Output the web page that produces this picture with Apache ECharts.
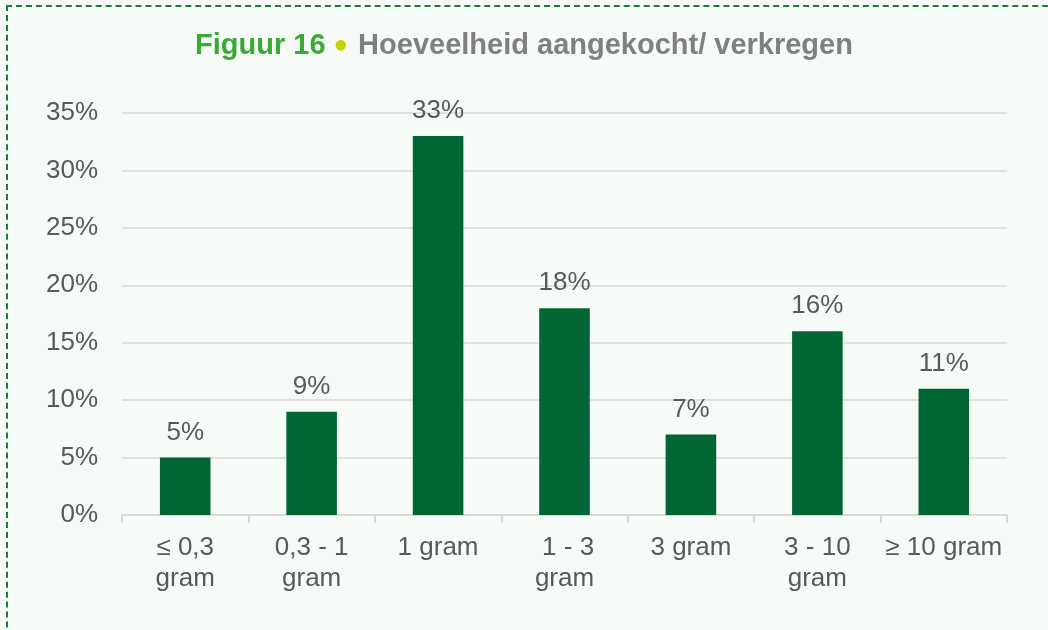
<!DOCTYPE html>
<html>
<head>
<meta charset="utf-8">
<script src="https://cdn.jsdelivr.net/npm/echarts@6/dist/echarts.min.js"></script>
<style>
    html, body { margin: 0; padding: 0; background: #f7fbf8; overflow: hidden; }
    #frame {
        position: absolute; left: 6px; top: 5px; width: 1100px; height: 700px;
        border-top: 2px dashed #1c7a3c; border-left: 2px dashed #1c7a3c;
    }
    #chartsbox { position: absolute; left: 0; top: 0; width: 1048px; height: 630px; }
</style>
</head>
<body>
<div id="frame"></div>
<div id="chartsbox"></div>
<script type="text/javascript">
    // data
    var aCategories = ['≤ 0,3\ngram', '0,3 - 1\ngram', '1 gram', ' 1 - 3\ngram', '3 gram', '3 - 10\ngram', '≥ 10 gram'];
    var aValues = [5, 9, 33, 18, 7, 16, 11];
    var aTicks = [0, 5, 10, 15, 20, 25, 30, 35];

    var myChart = echarts.init(document.getElementById('chartsbox'));
    var option = {
        backgroundColor: 'transparent',
        textStyle: { fontFamily: 'Liberation Sans, Arial, sans-serif' },
        title: {
            text: '{g|Figuur 16}{d|●}{t|Hoeveelheid aangekocht/ verkregen}',
            left: 'center',
            top: 26,
            textStyle: {
                rich: {
                    g: { color: '#3aaa35', fontSize: 29, fontWeight: 'bold', fontFamily: 'Liberation Sans' },
                    d: { color: '#c5d300', fontSize: 24, fontFamily: 'Liberation Sans', padding: [0, 10, 0, 8] },
                    t: { color: '#808080', fontSize: 29, fontWeight: 'bold', fontFamily: 'Liberation Sans' }
                }
            }
        },
        grid: { left: 122, right: 41, top: 113, bottom: 115 },
        xAxis: {
            type: 'category',
            data: aCategories,
            axisLine: { lineStyle: { color: '#d9d9d9', width: 2 } },
            axisTick: { show: true, length: 8, lineStyle: { color: '#d9d9d9', width: 2 } },
            axisLabel: { color: '#595959', fontSize: 26, margin: 17, lineHeight: 31, interval: 0 }
        },
        yAxis: {
            type: 'value',
            min: aTicks[0],
            max: aTicks[aTicks.length - 1],
            interval: 5,
            axisLabel: { color: '#595959', fontSize: 26, margin: 24, formatter: '{value}%' },
            splitLine: { lineStyle: { color: '#d9d9d9', width: 1.5 } },
            axisLine: { show: false },
            axisTick: { show: false }
        },
        series: [{
            type: 'bar',
            data: aValues,
            barWidth: '40%',
            itemStyle: { color: '#006633' },
            label: {
                show: true,
                position: 'top',
                distance: 12,
                color: '#595959',
                fontSize: 26,
                formatter: '{c}%'
            }
        }]
    };
    myChart.setOption(option);
</script>
</body>
</html>
